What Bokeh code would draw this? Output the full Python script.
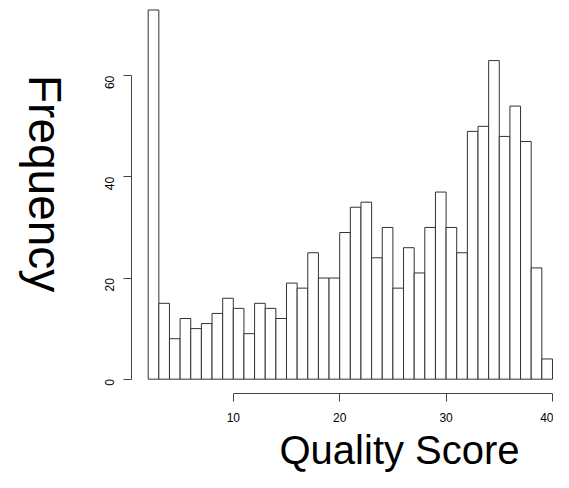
import math
from bokeh.plotting import figure
from bokeh.layouts import row
from bokeh.models import FixedTicker, LinearAxis, Range1d, Title
from bokeh.core.properties import value
from bokeh.embed import file_html
from bokeh.resources import INLINE

# histogram data: quality score bins (width 1, from 2 to 40) and counts
bin_breaks = [2, 3, 4, 5, 6, 7, 8, 9, 10, 11, 12, 13, 14, 15, 16, 17, 18, 19, 20,
              21, 22, 23, 24, 25, 26, 27, 28, 29, 30, 31, 32, 33, 34, 35, 36, 37,
              38, 39, 40]
counts = [73, 15, 8, 12, 10, 11, 13, 16, 14, 9, 15, 14, 12, 19, 18, 25, 20, 20,
          29, 34, 35, 24, 30, 18, 26, 21, 30, 37, 30, 25, 49, 50, 63, 48, 54, 47,
          22, 4]
x_ticks = [10, 20, 30, 40]
y_ticks = [0, 20, 40, 60]
x_label = "Quality Score"
y_label = "Frequency"

font = "Liberation Sans"
H = 472
LW = 70          # width of the strip holding the y title
MW = 553 - LW    # width of the main chart

# ---- left strip: rotated y title (reads top to bottom) ----
lab = figure(width=LW, height=H, output_backend="svg", toolbar_location=None,
             x_range=Range1d(0, LW), y_range=Range1d(0, H),
             x_axis_location=None, y_axis_location=None,
             min_border=0)
lab.outline_line_color = None
lab.xgrid.visible = False
lab.ygrid.visible = False
lab.text(x=[44.5], y=[H - 220], text=[y_label], angle=-math.pi / 2,
         text_font=value(font), text_font_size="46px", text_align="center",
         text_baseline="alphabetic", text_color="black")

# ---- main histogram ----
X0, X1 = 0.4303, 40.096
Y0, Y1 = -2.833, 74.88

p = figure(width=MW, height=H, output_backend="svg", toolbar_location=None,
           x_range=Range1d(X0, X1), y_range=Range1d(Y0, Y1),
           x_axis_location=None, y_axis_location=None,
           min_border_left=131 - LW, min_border_right=0, min_border_top=0,
           min_border_bottom=77)
p.outline_line_color = None
p.xgrid.visible = False
p.ygrid.visible = False
p.background_fill_color = "white"
p.border_fill_color = "white"

p.quad(left=bin_breaks[:-1], right=bin_breaks[1:], bottom=0, top=counts,
       fill_color="white", line_color="#333333", line_width=1)

xax = LinearAxis()
yax = LinearAxis()
for ax, ticks in ((xax, x_ticks), (yax, y_ticks)):
    ax.ticker = FixedTicker(ticks=ticks)
    ax.bounds = (ticks[0], ticks[-1])
    ax.major_tick_out = 8
    ax.major_tick_in = 0
    ax.minor_tick_line_color = None
    ax.axis_line_color = "#444444"
    ax.major_tick_line_color = "#444444"
    ax.major_label_text_font = font
    ax.major_label_text_font_size = "12px"
    ax.major_label_text_color = "black"
xax.major_label_standoff = 11
yax.major_label_standoff = 14
yax.major_label_orientation = math.pi / 2
p.add_layout(yax, "left")
p.add_layout(xax, "below")

p.add_layout(Title(text=x_label, text_font=font, text_font_size="40px",
                   text_font_style="normal", text_color="black",
                   align="left", offset=148, standoff=2), "below")

open("out.html", "w").write(file_html(row(lab, p), INLINE))
